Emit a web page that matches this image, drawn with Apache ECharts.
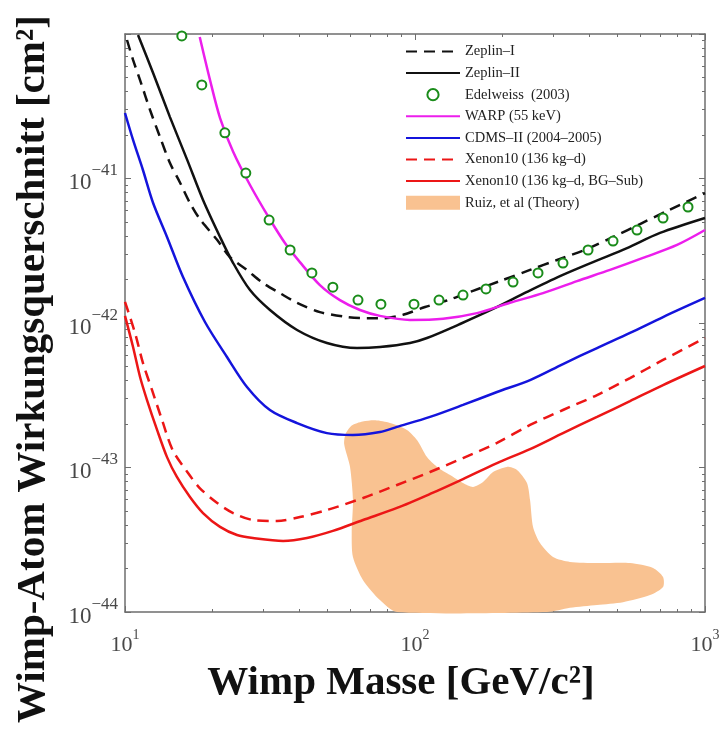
<!DOCTYPE html>
<html>
<head>
<meta charset="utf-8">
<script src="https://cdn.jsdelivr.net/npm/echarts@6/dist/echarts.min.js"></script>
<style>
html,body{margin:0;padding:0;background:#fff;}
#chart{width:723px;height:729px;}
</style>
</head>
<body>
<div id="chart"></div>
<script>
// ---------- data (mass in GeV/c², cross section in cm²) ----------
const massTickExponents = [1, 2, 3];
const sigmaTickExponents = [-44, -43, -42, -41];
const Y_UNIT = 1e-44; // cross sections are handed to the axis in units of 1e-44 cm²

const seriesNames = [
  'Zeplin–I',
  'Zeplin–II',
  'Edelweiss  (2003)',
  'WARP (55 keV)',
  'CDMS–II (2004–2005)',
  'Xenon10 (136 kg–d)',
  'Xenon10 (136 kg–d, BG–Sub)',
  'Ruiz, et al (Theory)'
];

const zeplinI = [
  [10.16, 9.09e-41], [10.66, 6.61e-41], [11.27, 4.80e-41], [12.2, 2.98e-41],
  [13.2, 1.94e-41], [14.29, 1.28e-41], [15.5, 9.31e-42], [16.75, 6.77e-42],
  [18.1, 5.25e-42], [20.8, 3.75e-42], [23.0, 2.86e-42], [26.3, 2.33e-42],
  [29.9, 1.89e-42], [34.2, 1.61e-42], [39.2, 1.38e-42], [47.0, 1.19e-42],
  [58.3, 1.10e-42], [68.3, 1.08e-42], [77.6, 1.08e-42], [90.9, 1.14e-42],
  [108.3, 1.29e-42], [130.0, 1.44e-42], [158.5, 1.67e-42], [196.4, 1.95e-42],
  [249.3, 2.33e-42], [309, 2.73e-42], [392, 3.25e-42], [482, 3.94e-42],
  [597, 4.84e-42], [740, 5.96e-42], [1000, 7.93e-42]
];

const zeplinII = [
  [11.09, 9.84e-41], [12.5, 5.37e-41], [14.29, 2.66e-41], [16.4, 1.34e-41],
  [18.58, 7.10e-42], [21.27, 3.94e-42], [23.6, 2.60e-42], [26.98, 1.69e-42],
  [31.62, 1.23e-42], [39.2, 8.95e-43], [49.7, 7.27e-43], [63.1, 6.71e-43],
  [75.7, 6.82e-43], [96.1, 7.27e-43], [110, 7.87e-43], [143, 9.84e-43],
  [185.8, 1.25e-42], [243.3, 1.64e-42], [316.2, 2.11e-42], [411.1, 2.64e-42],
  [538.3, 3.30e-42], [699.8, 4.20e-42], [1000, 5.33e-42]
];

const edelweiss = [
  [15.7, 9.69e-41], [18.4, 4.44e-41], [22.1, 2.07e-41], [26.1, 1.09e-41],
  [31.4, 5.16e-42], [37.1, 3.20e-42], [44.1, 2.22e-42], [52.1, 1.77e-42],
  [63.6, 1.44e-42], [76.3, 1.35e-42], [99.2, 1.35e-42], [121, 1.44e-42],
  [146.4, 1.56e-42], [175.7, 1.72e-42], [217.8, 1.92e-42], [265.6, 2.22e-42],
  [323.8, 2.60e-42], [395.1, 3.20e-42], [481.8, 3.69e-42], [582.7, 4.40e-42],
  [716.7, 5.33e-42], [873.9, 6.35e-42]
];

const warp = [
  [18.1, 9.53e-41], [19.64, 4.80e-41], [21.27, 2.62e-41], [23.6, 1.53e-41],
  [26.98, 9.02e-42], [31.4, 5.33e-42], [35.6, 3.58e-42], [40.1, 2.64e-42],
  [47.0, 1.83e-42], [55.1, 1.44e-42], [64.6, 1.23e-42], [75.7, 1.12e-42],
  [96.1, 1.05e-42], [125, 1.07e-42], [163.6, 1.17e-42], [212.6, 1.38e-42],
  [276.3, 1.61e-42], [361.9, 1.95e-42], [470.4, 2.33e-42], [611.2, 2.82e-42],
  [800.8, 3.47e-42], [1000, 4.40e-42]
];

const cdmsII = [
  [10, 2.84e-41], [10.66, 1.85e-41], [11.53, 1.145e-41], [12.5, 6.77e-42],
  [13.96, 3.94e-42], [15.85, 2.08e-42], [18.87, 1.016e-42], [22.47, 5.82e-43],
  [26.34, 3.61e-43], [31.6, 2.50e-43], [39.2, 2.03e-43], [49.7, 1.73e-43],
  [61.1, 1.68e-43], [75.7, 1.76e-43], [86.7, 1.91e-43], [112.7, 2.24e-43],
  [146.4, 2.71e-43], [191.8, 3.33e-43], [249.3, 4.03e-43], [323.8, 5.20e-43],
  [424.3, 6.71e-43], [551.3, 8.53e-43], [716.7, 1.10e-42], [1000, 1.49e-42]
];

const xenon10 = [
  [10, 1.40e-42], [10.83, 8.53e-43], [11.53, 5.29e-43], [12.39, 3.44e-43],
  [13.42, 2.13e-43], [14.6, 1.32e-43], [16.4, 9.31e-44], [18.1, 7.21e-44],
  [20.8, 5.68e-44], [23.6, 4.84e-44], [27.6, 4.33e-44], [33.4, 4.26e-44],
  [40.1, 4.54e-44], [49.7, 5.08e-44], [66.2, 6.15e-44], [86.7, 7.57e-44],
  [112.7, 9.31e-44], [146.4, 1.163e-43], [191.8, 1.48e-43], [249.3, 1.97e-43],
  [323.8, 2.50e-43], [424.3, 3.17e-43], [551.3, 4.16e-43], [716.7, 5.55e-43],
  [1000, 7.87e-43]
];

const xenon10BgSub = [
  [10, 1.12e-42], [10.66, 6.82e-43], [11.27, 4.23e-43], [11.91, 2.93e-43],
  [12.9, 1.82e-43], [13.96, 1.18e-43], [15.1, 8.60e-44], [16.75, 6.25e-44],
  [18.58, 4.84e-44], [21.27, 3.88e-44], [24.33, 3.41e-44], [27.6, 3.25e-44],
  [35.1, 3.10e-44], [42.4, 3.25e-44], [52.1, 3.64e-44], [66.2, 4.33e-44],
  [86.7, 5.25e-44], [112.7, 6.56e-44], [146.4, 8.32e-44], [191.8, 1.074e-43],
  [249.3, 1.34e-43], [323.8, 1.73e-43], [424.3, 2.24e-43], [551.3, 2.88e-43],
  [716.7, 3.72e-43], [1000, 5.04e-43]
];

// outline of the theory region (closed polygon)
const ruizTheory = [
  [57.0, 1.45e-43], [57.6, 1.70e-43], [60.5, 1.95e-43], [66.0, 2.08e-43],
  [73.0, 2.12e-43], [82.0, 2.03e-43], [93.8, 1.82e-43], [101.6, 1.55e-43],
  [110.0, 1.18e-43], [119.1, 1.01e-43], [132.1, 8.87e-44], [146.4, 7.81e-44],
  [158.5, 7.33e-44], [171.6, 7.93e-44], [185.8, 9.31e-44], [207.6, 1.01e-43],
  [224.7, 9.61e-44], [243.3, 7.81e-44], [249.3, 5.96e-44], [255.3, 3.88e-44],
  [269.8, 3.00e-44], [299.2, 2.40e-44], [342.3, 2.22e-44], [424.3, 2.18e-44],
  [551.3, 2.18e-44], [662.0, 2.02e-44], [716.7, 1.75e-44], [716.7, 1.49e-44],
  [646.3, 1.31e-44], [521.6, 1.17e-44], [424.3, 1.12e-44], [342.3, 1.07e-44],
  [285.3, 1.0e-44], [86.7, 1.0e-44], [75.7, 1.21e-44], [66.2, 1.66e-44],
  [61.1, 2.40e-44], [60.5, 3.52e-44], [61.1, 5.96e-44], [59.7, 1.01e-43]
];

// ---------- styling ----------
const FONT = '"Liberation Serif", "Times New Roman", serif';
const AXIS_COLOR = '#6e6e6e';
const LABEL_COLOR = '#484848';
const C_BLACK = '#111111';
const C_GREEN = '#1a8c1a';
const C_MAGENTA = '#ec1eec';
const C_BLUE = '#1414dc';
const C_RED = '#ec1616';
const C_ORANGE = '#f9c291';
const DASH = [11, 7];

const toPlot = pts => pts.map(p => [p[0], p[1] / Y_UNIT]);

// minor tick positions (log10 space) for the tick-only overlay axes
const xMinor = [], yMinor = [];
[1, 2].forEach(d => { for (let k = 2; k <= 9; k++) xMinor.push(d + Math.log10(k)); });
[0, 1, 2, 3].forEach(d => { for (let k = 2; k <= 9; k++) yMinor.push(d + Math.log10(k)); });

function lineSeries(name, pts, color, dashed) {
  return {
    type: 'line', name, data: toPlot(pts), symbol: 'none', smooth: 0.3,
    lineStyle: { color, width: 2.5, type: dashed ? DASH : 'solid' },
    itemStyle: { color }, z: 3, clip: true
  };
}

const xRich = {
  b: { fontFamily: FONT, fontSize: 22, color: LABEL_COLOR, lineHeight: 28, verticalAlign: 'bottom' },
  s: { fontFamily: FONT, fontSize: 14, color: LABEL_COLOR, lineHeight: 14, verticalAlign: 'top' }
};
const yRich = {
  b: { fontFamily: FONT, fontSize: 23, color: LABEL_COLOR, lineHeight: 32, verticalAlign: 'bottom' },
  s: { fontFamily: FONT, fontSize: 17, color: LABEL_COLOR, lineHeight: 15, verticalAlign: 'top' }
};

const axisLine = { show: true, onZero: false, lineStyle: { color: AXIS_COLOR, width: 1.5 } };
const majorTick = { show: true, inside: true, length: 6, lineStyle: { color: AXIS_COLOR, width: 1 } };

function minorAxis(pos, min, max, vals) {
  return {
    type: 'value', position: pos, min, max,
    axisLine: { show: false, onZero: false },
    axisTick: { show: true, inside: true, length: 3, customValues: vals, lineStyle: { color: AXIS_COLOR, width: 1 } },
    axisLabel: { show: false }, splitLine: { show: false }
  };
}

const option = {
  animation: false,
  backgroundColor: '#ffffff',
  grid: { left: 125, top: 34, width: 580, height: 578, containLabel: false, outerBoundsMode: 'none' },
  xAxis: [
    {
      type: 'log', logBase: 10, min: 10, max: 1000, position: 'bottom',
      axisLine, axisTick: majorTick, splitLine: { show: false },
      axisLabel: {
        margin: 16, rich: xRich,
        formatter: v => {
          const e = Math.round(Math.log10(v));
          return massTickExponents.includes(e) ? '{b|10}{s|' + e + '}' : '';
        }
      }
    },
    {
      type: 'log', logBase: 10, min: 10, max: 1000, position: 'top',
      axisLine, axisTick: majorTick, axisLabel: { show: false }, splitLine: { show: false }
    },
    minorAxis('bottom', 1, 3, xMinor),
    minorAxis('top', 1, 3, xMinor)
  ],
  yAxis: [
    {
      type: 'log', logBase: 10, min: 1, max: 10000, position: 'left',
      axisLine, axisTick: majorTick, splitLine: { show: false },
      axisLabel: {
        margin: 7, rich: yRich,
        formatter: v => {
          const e = Math.round(Math.log10(v * Y_UNIT));
          return sigmaTickExponents.includes(e) ? '{b|10}{s|−' + Math.abs(e) + '}' : '';
        }
      }
    },
    {
      type: 'log', logBase: 10, min: 1, max: 10000, position: 'right',
      axisLine, axisTick: majorTick, axisLabel: { show: false }, splitLine: { show: false }
    },
    minorAxis('left', 0, 4, yMinor),
    minorAxis('right', 0, 4, yMinor)
  ],
  legend: {
    orient: 'vertical', left: 405, top: 44, padding: 0,
    itemWidth: 54, itemHeight: 14, itemGap: 6.6, selectedMode: false,
    textStyle: { fontFamily: FONT, fontSize: 14.5, color: '#222', lineHeight: 14 },
    data: [
      { name: seriesNames[0], itemStyle: { opacity: 0 } },
      { name: seriesNames[1], itemStyle: { opacity: 0 } },
      { name: seriesNames[2], lineStyle: { opacity: 0 } },
      { name: seriesNames[3], itemStyle: { opacity: 0 } },
      { name: seriesNames[4], itemStyle: { opacity: 0 } },
      { name: seriesNames[5], itemStyle: { opacity: 0 } },
      { name: seriesNames[6], itemStyle: { opacity: 0 } },
      { name: seriesNames[7], icon: 'rect' }
    ]
  },
  graphic: [
    {
      type: 'text', x: 33, y: 369, rotation: Math.PI / 2, silent: true,
      style: {
        text: 'Wimp-Atom Wirkungsquerschnitt [cm²]', font: 'bold 41px ' + FONT,
        fill: '#111', align: 'center', verticalAlign: 'middle',
        textAlign: 'center', textVerticalAlign: 'middle'
      }
    },
    {
      type: 'text', x: 401, y: 683, silent: true,
      style: {
        text: 'Wimp Masse [GeV/c²]', font: 'bold 41px ' + FONT,
        fill: '#111', align: 'center', verticalAlign: 'middle',
        textAlign: 'center', textVerticalAlign: 'middle'
      }
    }
  ],
  series: [
    {
      type: 'custom', name: seriesNames[7], data: toPlot(ruizTheory), z: 1, silent: true,
      itemStyle: { color: C_ORANGE },
      renderItem: (params, api) => {
        if (params.dataIndex !== 0) return;
        const pts = toPlot(ruizTheory).map(p => api.coord(p));
        return { type: 'polygon', shape: { points: pts, smooth: 0.25 }, style: { fill: C_ORANGE } };
      }
    },
    lineSeries(seriesNames[0], zeplinI, C_BLACK, true),
    lineSeries(seriesNames[1], zeplinII, C_BLACK, false),
    {
      type: 'line', name: seriesNames[2], data: toPlot(edelweiss),
      symbol: 'emptyCircle', symbolSize: 9, showSymbol: true,
      lineStyle: { opacity: 0 }, itemStyle: { color: C_GREEN, borderWidth: 2 }, z: 5
    },
    lineSeries(seriesNames[3], warp, C_MAGENTA, false),
    lineSeries(seriesNames[4], cdmsII, C_BLUE, false),
    lineSeries(seriesNames[5], xenon10, C_RED, true),
    lineSeries(seriesNames[6], xenon10BgSub, C_RED, false)
  ]
};

const chart = echarts.init(document.getElementById('chart'), null, { renderer: 'canvas' });
chart.setOption(option);
</script>
</body>
</html>
